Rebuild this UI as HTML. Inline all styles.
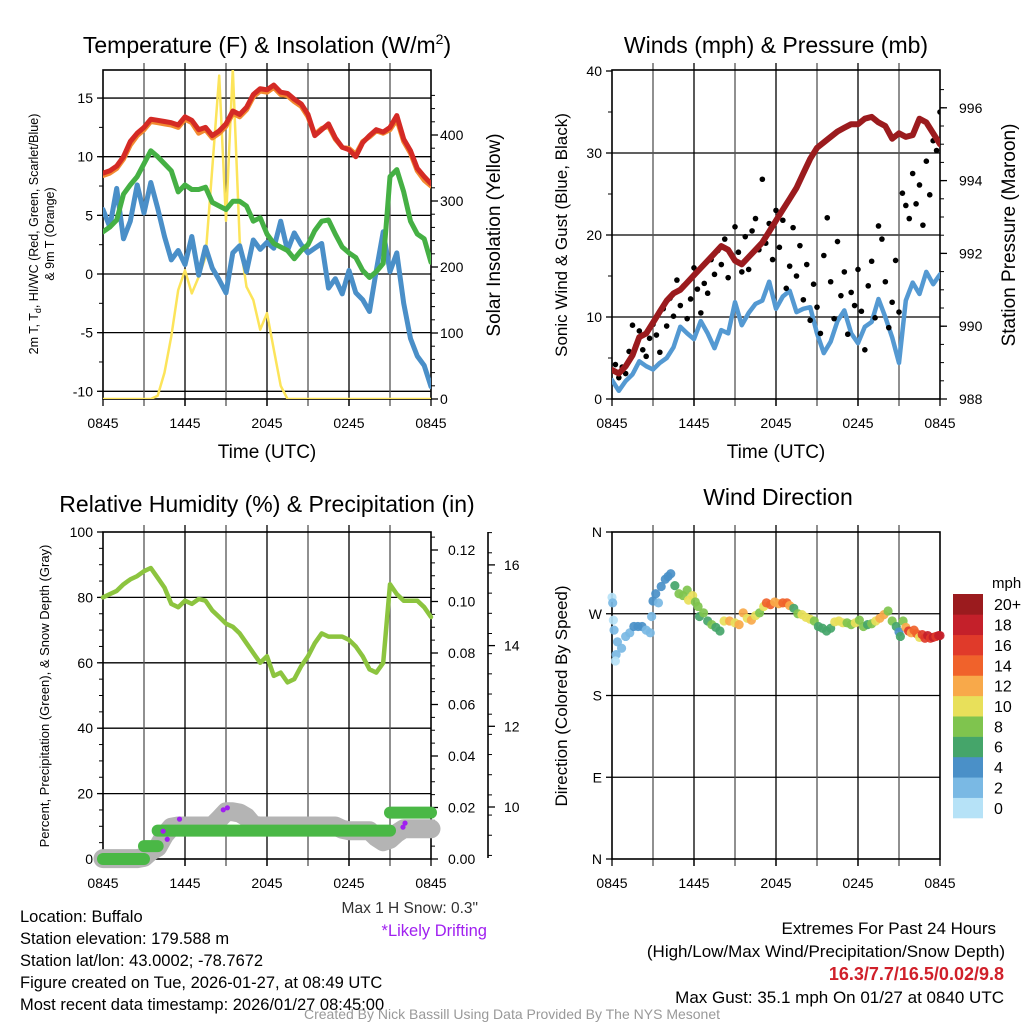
<!DOCTYPE html>
<html><head><meta charset="utf-8"><style>
html,body{margin:0;padding:0;background:#fff;}
svg{display:block;font-family:"Liberation Sans",sans-serif;}
</style></head><body>
<svg id="root" xmlns="http://www.w3.org/2000/svg" width="1024" height="1024" viewBox="0 0 1024 1024">
<defs>
<clipPath id="c1"><rect x="103" y="70" width="328" height="329"/></clipPath>
<clipPath id="c2"><rect x="612" y="70" width="328" height="329"/></clipPath>
</defs>
<!-- titles -->
<text x="267" y="53" font-size="23" text-anchor="middle">Temperature (F) &amp; Insolation (W/m<tspan font-size="14" dy="-9">2</tspan><tspan dy="9">)</tspan></text>
<text x="776" y="53" font-size="23" text-anchor="middle">Winds (mph) &amp; Pressure (mb)</text>
<text x="267" y="512" font-size="23" text-anchor="middle">Relative Humidity (%) &amp; Precipitation (in)</text>
<text x="778" y="505" font-size="23" text-anchor="middle">Wind Direction</text>
<!-- axis titles -->
<text transform="translate(38,234) rotate(-90)" font-size="12.5" text-anchor="middle">2m T, T<tspan font-size="9" dy="3">d</tspan><tspan dy="-3">, HI/WC (Red, Green, Scarlet/Blue)</tspan></text>
<text transform="translate(54,234) rotate(-90)" font-size="12.5" text-anchor="middle">&amp; 9m T (Orange)</text>
<text transform="translate(500,235) rotate(-90)" font-size="19" text-anchor="middle">Solar Insolation (Yellow)</text>
<text x="267" y="458" font-size="19" text-anchor="middle">Time (UTC)</text>
<text transform="translate(567,235) rotate(-90)" font-size="17" text-anchor="middle">Sonic Wind &amp; Gust (Blue, Black)</text>
<text transform="translate(1015,235) rotate(-90)" font-size="19" text-anchor="middle">Station Pressure (Maroon)</text>
<text x="776" y="458" font-size="19" text-anchor="middle">Time (UTC)</text>
<text transform="translate(49,696) rotate(-90)" font-size="13" text-anchor="middle">Percent, Precipitation (Green), &amp; Snow Depth (Gray)</text>
<text transform="translate(567,696) rotate(-90)" font-size="17" text-anchor="middle">Direction (Colored By Speed)</text>
<!-- colorbar label -->
<text x="992" y="588" font-size="15">mph</text>
<!-- footer texts -->
<text x="478" y="913" font-size="15.5" fill="#333" text-anchor="end">Max 1 H Snow: 0.3"</text>
<text x="487" y="936" font-size="16.5" fill="#a020f0" text-anchor="end">*Likely Drifting</text>
<g font-size="16.5">
<text x="20" y="922">Location: Buffalo</text>
<text x="20" y="944">Station elevation: 179.588 m</text>
<text x="20" y="966">Station lat/lon: 43.0002; -78.7672</text>
<text x="20" y="988">Figure created on Tue, 2026-01-27, at 08:49 UTC</text>
<text x="20" y="1010">Most recent data timestamp: 2026/01/27 08:45:00</text>
</g>
<g font-size="17" text-anchor="end">
<text x="996" y="934">Extremes For Past 24 Hours</text>
<text x="1005" y="957">(High/Low/Max Wind/Precipitation/Snow Depth)</text>
<text x="1004" y="980" fill="#d0202a" font-weight="bold" font-size="18">16.3/7.7/16.5/0.02/9.8</text>
<text x="1004" y="1003">Max Gust: 35.1 mph On 01/27 at 0840 UTC</text>
</g>
<text x="512" y="1019" font-size="14" fill="#999" text-anchor="middle">Created By Nick Bassill Using Data Provided By The NYS Mesonet</text>
<g id="layer"></g>
</svg>
<script>
// ---------- data (0.5 h steps from 0845 UTC) ----------
const xTickLabels = ["0845","1445","2045","0245","0845"];
const tempTicks = [-10,-5,0,5,10,15];
const solarTicks = [0,100,200,300,400];
const windTicks = [0,10,20,30,40];
const presTicks = [988,990,992,994,996];
const rhTicks = [0,20,40,60,80,100];
const precipTicks = ["0.00","0.02","0.04","0.06","0.08","0.10","0.12"];
const snowTicks = [10,12,14,16];
const dirTicks = ["N","E","S","W","N"];
const speedBins = ["0","2","4","6","8","10","12","14","16","18","20+"];

const T_RED = [8.6,8.8,9.2,10.0,11.3,12.0,12.5,13.2,13.1,13.0,12.9,12.7,13.4,13.1,12.3,12.5,11.8,12.2,12.8,13.9,13.6,14.2,15.3,15.8,15.7,16.1,15.5,15.4,14.9,14.5,13.6,11.8,12.3,12.8,11.6,10.8,10.6,10.0,11.2,11.8,12.3,12.1,12.5,13.5,11.5,10.5,9.0,8.3,7.7];
const T_ORANGE = [8.4,8.6,9.0,9.8,11.0,11.8,12.3,13.0,12.9,12.8,12.7,12.5,13.2,12.9,12.0,12.3,11.6,12.0,12.6,13.7,13.4,14.0,15.1,15.6,15.5,15.9,15.3,15.2,14.7,14.3,13.4,11.9,12.4,12.6,11.5,10.8,10.7,10.2,11.3,11.7,12.2,12.0,12.3,13.2,11.3,10.3,8.8,8.0,7.5];
const T_GREEN = [3.6,4.0,4.6,6.8,7.6,8.3,9.4,10.5,10.0,9.4,8.8,7.0,7.6,7.2,7.2,7.4,6.1,5.8,5.5,6.2,6.2,5.8,4.5,4.8,3.4,2.6,2.3,2.0,1.3,2.0,2.5,3.7,4.5,4.6,3.4,2.3,1.8,1.4,0.3,-0.3,0.2,0.9,8.3,8.9,7.0,4.5,3.4,3.0,1.0];
const T_BLUE = [5.5,4.0,7.3,3.0,4.5,7.6,5.2,7.8,5.6,3.2,1.2,2.0,0.8,3.2,-0.1,2.3,0.5,-0.5,-1.6,1.8,2.4,0.2,2.9,2.1,2.7,2.2,4.5,2.0,3.5,2.5,1.8,2.2,2.6,-1.2,-0.4,-1.7,0.3,-1.6,-2.2,-3.2,0.3,3.6,0.2,1.8,-2.5,-5.5,-7.0,-7.8,-9.6];
const SOLAR = [0,0,0,0,0,0,0,0,5,40,95,165,195,160,185,215,350,490,270,500,240,170,150,105,130,75,20,0,0,0,0,0,0,0,0,0,0,0,0,0,0,0,0,0,0,0,0,0,0];
const WIND = [2.3,1.0,2.2,3.0,4.6,4.0,3.6,4.4,5.0,6.3,8.8,8.0,7.3,9.5,8.0,6.2,8.4,8.0,11.8,9.0,10.5,11.6,12.0,14.3,11.0,12.5,13.2,10.6,11.0,11.2,8.0,5.6,7.0,9.5,10.8,8.0,6.8,8.8,9.4,12.2,10.0,7.5,4.4,12.0,14.2,12.8,15.5,14.0,15.2];
const PRES = [988.8,988.7,988.9,989.2,989.7,989.8,990.1,990.4,990.7,990.9,991.0,991.2,991.4,991.6,991.8,992.0,992.2,992.1,991.8,991.7,991.9,992.1,992.3,992.6,992.9,993.2,993.5,993.8,994.2,994.6,994.9,995.05,995.2,995.35,995.45,995.55,995.55,995.7,995.75,995.6,995.5,995.15,995.3,995.2,995.25,995.7,995.6,995.3,995.0];
// gusts at 0.25 h steps
const GUST = [3.5,4.2,2.6,3.9, 3.1,5.8,9.0,6.5, 8.3,6.0,5.2,7.4, 9.1,7.8,5.7,11.0, 8.9,12.3,10.1,14.5, 11.4,13.8,9.8,12.2, 16.0,13.4,10.5,14.1, 12.9,17.0,15.2,18.1, 16.4,19.5,14.8,17.6, 21.0,17.9,15.5,19.8, 15.8,20.5,22.0,18.2, 26.8,19.0,21.4,17.0, 23.0,18.5,21.8,13.5, 16.2,20.9,15.0,18.7, 12.1,16.4,9.6,14.0, 11.2,8.0,17.5,22.1, 14.3,9.8,19.2,12.6, 15.5,7.9,13.0,11.4, 15.8,10.7,6.0,13.8, 16.8,9.9,21.1,19.5, 14.3,8.7,11.8,16.9, 10.6,25.1,23.6,22.0, 27.5,23.8,26.1,21.2, 29.0,24.9,31.5,30.3, 35.0];
const RH = [80,81,82,84,85.5,86.5,88,89,86,83,78,77,79,78,79.5,79,76,74,72,71,69,66,63,60,62,56,57,54,55,59,62,66,69,68,68,68,67,65,62,58,57,60,84,81,79,79,79,77,74];
const PRECIP = [0,0,0,0,0,0,0.005,0.005,0.011,0.011,0.011,0.011,0.011,0.011,0.011,0.011,0.011,0.011,0.011,0.011,0.011,0.011,0.011,0.011,0.011,0.011,0.011,0.011,0.011,0.011,0.011,0.011,0.011,0.011,0.011,0.011,0.011,0.011,0.011,0.011,0.011,0.011,0.018,0.018,0.018,0.018,0.018,0.018,0.018];
const SNOW = [8.72,8.72,8.72,8.72,8.72,8.72,8.75,8.9,9.0,9.3,9.5,9.53,9.53,9.53,9.53,9.53,9.53,9.7,9.88,9.88,9.85,9.75,9.55,9.53,9.53,9.53,9.53,9.53,9.53,9.53,9.53,9.53,9.53,9.53,9.53,9.45,9.41,9.41,9.41,9.41,9.25,9.14,9.2,9.35,9.46,9.46,9.46,9.46,9.46];
const DRIFT_T = [4.4,4.7,5.6,8.8,9.1,21.95,22.1];
const DRIFT_S = [9.4,9.2,9.7,9.93,9.98,9.5,9.6];
const DIR_T = [0,0.05,0.1,0.15,0.4,0.3,0.25,0.7,1.0,1.3,1.6,1.9,2.2,2.5,2.8,2.9,3.0,3.2,3.4,3.6,3.9,4.1,4.3,4.6,4.9,5.2,5.5,5.6,5.9,6.1,6.3,6.4,6.7,7.0,7.3,7.6,7.9,8.2,8.6,9.0,9.3,9.6,9.9,10.2,10.5,10.8,11.1,11.3,11.6,11.9,12.2,12.5,12.8,13.0,13.3,13.6,13.9,14.2,14.5,14.8,15.1,15.4,15.7,16.0,16.3,16.6,16.9,17.2,17.5,17.8,18.1,18.4,18.7,19.0,19.3,19.6,19.9,20.2,20.5,20.8,21.0,21.1,21.3,21.5,21.7,21.9,22.1,22.3,22.5,22.7,22.9,23.1,23.3,23.5,23.7,23.9,24.0];
const DIR_DEG = [288,282,263,252,239,225,218,232,245,249,256,256,256,252,249,267,284,292,282,300,308,311,314,301,292,290,296,285,290,283,278,267,271,262,258,255,251,262,262,260,258,271,265,263,268,271,278,282,280,283,281,282,282,279,276,270,269,266,264,262,256,254,251,254,261,262,260,260,258,260,263,256,258,259,262,265,269,273,262,256,250,245,262,255,251,249,252,248,244,247,243,246,243,244,245,246,246];
const DIR_SPD = [1,2.5,1,2.5,2.5,2.5,1,2.5,3,2.5,4.5,4.5,4.5,3,2.5,3,4.5,4.5,3,4.5,4.5,4.5,4.5,7,8.5,9,8.5,10.5,10.5,9,8.5,7,8.5,7,9,7,7,11,12.5,10.5,12,12.5,10.5,12.5,10.5,9,10.5,15,14,12,12.5,14,15,12,6.5,8.5,10.5,10.5,10.5,8.5,6.5,6.5,7,6.5,10.5,10.5,10.5,9,8.5,10.5,8.5,9,7,8.5,10.5,12.5,12.5,8.5,8.5,7,4.5,7,8.5,12.5,17,13,15,14,11,16.5,17,18.5,16.5,18,17,18,18.5];
const SPEED_COLORS = ["#b6e2f7","#7ab9e4","#4a90c8","#45a56a","#7fc44e","#e8e05a","#f8a94a","#f0622b","#e03a2a","#c4202a","#9b1b1e"];

// ---------- scales ----------
const HR = 328/24;
const x1 = t => 103 + t*HR;
const x2 = t => 612 + t*HR;
const yT = v => 274 - v*11.73;
const yS = v => 399 - v*0.66;
const yW = v => 399 - v*8.2;
const yP = p => 399 - (p-988)*36.4;
const yRH = v => 859 - v*3.27;
const yPr = p => 859 - p*2575;
const ySn = s => 807 - (s-10)*40.35;
const yD = d => 859 - d*327/360;

const NS = "http://www.w3.org/2000/svg";
const layer = document.getElementById("layer");
function mk(tag, attrs, parent){
  const e = document.createElementNS(NS, tag);
  for (const k in attrs) e.setAttribute(k, attrs[k]);
  (parent||layer).appendChild(e);
  return e;
}
function txt(x,y,s,size,anchor,parent){
  const e = mk("text",{x:x,y:y,"font-size":size,"text-anchor":anchor},parent);
  e.textContent = s;
  return e;
}
function line(x1_,y1_,x2_,y2_,stroke,w,parent){
  return mk("line",{x1:x1_,y1:y1_,x2:x2_,y2:y2_,stroke:stroke,"stroke-width":w},parent);
}
function poly(xs, ys, stroke, w, parent){
  let d = "";
  for (let i=0;i<xs.length;i++) d += (i?"L":"M")+xs[i].toFixed(1)+","+ys[i].toFixed(1);
  return mk("path",{d:d,fill:"none",stroke:stroke,"stroke-width":w,"stroke-linejoin":"round","stroke-linecap":"round"},parent);
}

function panelFrame(name, x0, y0, w, h){
  const g = mk("g",{});
  
  
  for (let k=1;k<8;k++){
    const x = x0 + k*w/8;
    const gl = line(x, y0-7, x, y0+h+7, k%2? "#555":"#000", 1.3, g);
    
    
  }
  const box = mk("rect",{x:x0,y:y0,width:w,height:h,fill:"none",stroke:"#000","stroke-width":1.6},g);
  
  
  for (let k=0;k<xTickLabels.length;k++){
    const x = x0 + k*w/4;
    line(x, y0+h, x, y0+h+7, "#000", 1.3, g);
    const tl = txt(x, y0+h+29, xTickLabels[k], 14, "middle", g);
    
    
  }
  return g;
}
function hgrid(name, ys, x0, w){
  for (const y of ys){
    const gl = line(x0, y, x0+w, y, "#000", 1.3);
    
    
  }
}
function leftTicks(name, vals, yf, x0, labels){
  vals.forEach((v,i)=>{
    const y = yf(v);
    line(x0-6, y, x0, y, "#000", 1.3);
    const t = txt(x0-10, y+5, labels? labels[i] : String(v), 14, "end");
    
    
  });
}
function rightTicks(name, vals, yf, xr, labels, lx){
  vals.forEach((v,i)=>{
    const y = yf(v);
    line(xr, y, xr+7, y, "#000", 1.3);
    const t = txt(lx, y+5, labels? labels[i] : String(v), 14, "start");
    
    
  });
}
function minorTicks(lo, hi, step, yf, x, dir){
  for (let v=lo; v<=hi+1e-9; v+=step) line(x, yf(v), x+dir*4, yf(v), "#000", 1);
}
const hr = i => i*0.5;

// ================= Panel 1: Temperature =================
hgrid("temp", tempTicks.map(yT), 103, 328);
panelFrame("temp", 103, 70, 328, 329);
leftTicks("temp-left", tempTicks, yT, 103);
minorTicks(-10, 15, 2.5, yT, 103, -1);
rightTicks("solar", solarTicks, yS, 431, null, 440);
minorTicks(0, 460, 20, yS, 431, 1);
{
  const g = mk("g",{"clip-path":"url(#c1)"});
  
  
  const s1 = poly(SOLAR.map((v,i)=>x1(hr(i))), SOLAR.map(yS), "#fce45a", 2.5, g);
  
  
  const s2 = poly(T_BLUE.map((v,i)=>x1(hr(i))), T_BLUE.map(yT), "#4a8fc8", 5, g);
  
  
  const s3 = poly(T_GREEN.map((v,i)=>x1(hr(i))), T_GREEN.map(yT), "#45b044", 5, g);
  
  
  const s4 = poly(T_ORANGE.map((v,i)=>x1(hr(i))), T_ORANGE.map(yT), "#f28a30", 5, g);
  
  
  const s5 = poly(T_RED.map((v,i)=>x1(hr(i))), T_RED.map(yT), "#d42a25", 5, g);
  
  
}

// ================= Panel 2: Winds =================
hgrid("wind", [10,20,30].map(yW), 612, 328);
panelFrame("wind", 612, 70, 328, 329);
leftTicks("wind-left", windTicks, yW, 612);
minorTicks(0, 40, 5, yW, 612, -1);
rightTicks("pressure", presTicks, yP, 940, null, 959);
minorTicks(988, 996.8, 0.5, yP, 940, 1);
{
  const g = mk("g",{"clip-path":"url(#c2)"});
  
  
  const s1 = poly(WIND.map((v,i)=>x2(hr(i))), WIND.map(yW), "#5499d2", 4.5, g);
  
  
  GUST.forEach((v,i)=>{
    const c = mk("circle",{cx:x2(i*0.25), cy:yW(v), r:2.8, fill:"#000"}, g);
    
    
  });
  const s2 = poly(PRES.map((v,i)=>x2(hr(i))), PRES.map(yP), "#9b1b1e", 6, g);
  
  
}

// ================= Panel 3: RH / Precip / Snow =================
hgrid("rh", [20,40,60,80].map(yRH), 103, 328);
panelFrame("rh", 103, 532, 328, 327);
leftTicks("rh-left", rhTicks, yRH, 103);
minorTicks(0, 100, 5, yRH, 103, -1);
rightTicks("precip", [0,0.02,0.04,0.06,0.08,0.10,0.12], yPr, 431, precipTicks, 448);
minorTicks(0, 0.125, 0.005, yPr, 431, 1);
{
  const ax = line(488, 532, 488, 858, "#000", 1.6);
  
  
  minorTicks(8.8, 16.8, 0.5, ySn, 488, 1);
  rightTicks("snow", snowTicks, ySn, 488, null, 504);
}
{
  const g = mk("g",{});
  
  
  const sn = poly(SNOW.map((v,i)=>x1(hr(i))), SNOW.map(ySn), "#b4b4b4", 19, g);
  
  
  let start = 0;
  for (let i=1;i<=PRECIP.length;i++){
    if (i===PRECIP.length || PRECIP[i]!==PRECIP[start]){
      const tEnd = i===PRECIP.length ? hr(i-1) : hr(i);
      const seg = line(x1(hr(start)), yPr(PRECIP[start]), x1(tEnd), yPr(PRECIP[start]), "#4ab846", 12, g);
      seg.setAttribute('stroke-linecap','round');
      
      
      start = i;
    }
  }
  DRIFT_T.forEach((t,i)=>{
    const c = mk("circle",{cx:x1(t), cy:ySn(DRIFT_S[i]), r:2.6, fill:"#a020f0"}, g);
    
    
  });
  const rl = poly(RH.map((v,i)=>x1(hr(i))), RH.map(yRH), "#8cc43f", 4.5, g);
  
  
}

// ================= Panel 4: Wind direction =================
hgrid("dir", [90,180,270].map(yD), 612, 328);
panelFrame("dir", 612, 532, 328, 327);
leftTicks("dir-left", [0,90,180,270,360], yD, 612, dirTicks);
{
  const g = mk("g",{});
  
  
  DIR_T.forEach((t,i)=>{
    const bin = Math.min(10, Math.floor(DIR_SPD[i]/2));
    const c = mk("circle",{cx:x2(t), cy:yD(DIR_DEG[i]), r:4.6, fill:SPEED_COLORS[bin], "fill-opacity":0.92}, g);
    
    
  });
  const cb = mk("g",{});
  
  
  const bh = 224/11;
  speedBins.forEach((lab,k)=>{
    const y = 818 - (k+1)*bh;
    const r = mk("rect",{x:953, y:y, width:30, height:bh+0.3, fill:SPEED_COLORS[k]}, cb);
    
    
    const t = txt(994, y+bh/2+6, lab, 16, "start", cb);
    
    
  });
}
</script>
</body></html>
